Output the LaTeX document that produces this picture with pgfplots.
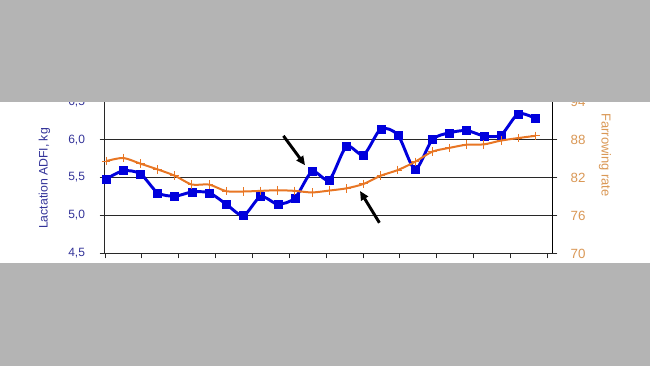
\documentclass[border=0pt]{standalone}
\usepackage{pgfplots}
\pgfplotsset{compat=1.18}
\usepackage{fontspec}
\setmainfont{Liberation Sans}
\usetikzlibrary{arrows.meta}
\definecolor{navy}{RGB}{51,51,153}
\definecolor{lorange}{RGB}{218,152,86}
\definecolor{bblue}{RGB}{0,0,220}
\definecolor{borange}{RGB}{232,118,36}
\definecolor{band}{RGB}{180,180,180}
\definecolor{gridc}{RGB}{40,40,40}
\pgfplotstableread{
x adfi farrow
1 5.48 84.6
2 5.59 85.1
3 5.55 84.2
4 5.30 83.3
5 5.255 82.3
6 5.31 80.9
7 5.30 80.9
8 5.15 79.85
9 5.00 79.8
10 5.25 79.9
11 5.15 80.0
12 5.23 79.9
13 5.58 79.65
14 5.47 79.95
15 5.91 80.3
16 5.80 81.0
17 6.14 82.3
18 6.06 83.2
19 5.61 84.5
20 6.00 86.1
21 6.09 86.7
22 6.12 87.2
23 6.05 87.25
24 6.06 87.85
25 6.34 88.25
26 6.28 88.6
}\datatable
\begin{document}
\begin{tikzpicture}
\useasboundingbox (0,0) rectangle (487.5pt,274.5pt);
\fill[white] (0,0) rectangle (487.5pt,274.5pt);
\begin{axis}[
  at={(78.525pt,84.375pt)}, anchor=south west,
  scale only axis, width=335.7pt, height=113.85pt,
  xmin=0.92, xmax=26.99, ymin=4.5, ymax=6.5,
  axis x line*=bottom, axis y line*=left,
  axis line style={gridc, line width=0.9pt},
  xtick={0.94,3.087,5.234,7.381,9.528,11.675,13.822,15.969,18.116,20.263,22.41,24.557,26.704},
  xticklabels={},
  ytick={4.5,5,5.5,6,6.5},
  yticklabels={{4,5},{5,0},{5,5},{6,0},{6,5}},
  tick align=outside, major tick length=3.75pt,
  tick style={gridc, line width=0.75pt},
  ymajorgrids, grid style={gridc, line width=0.75pt},
  yticklabel style={font=\fontsize{9}{10}\selectfont, text=navy, xshift=-7.5pt},
  clip=false,
]
\addplot[bblue, line width=2.2pt, smooth, tension=0.45, mark=square*, mark size=3pt,
  mark options={fill=bblue, draw=bblue, line width=0.4pt}] table[x=x, y=adfi] {\datatable};
\draw[line width=2.2pt, -{Triangle[length=6.75pt,width=6pt]}] (axis cs:11.33,6.05) -- (axis cs:12.59,5.663);
\draw[line width=2.2pt, -{Triangle[length=6.75pt,width=6pt]}] (axis cs:16.92,4.905) -- (axis cs:15.79,5.323);
\end{axis}
\begin{axis}[
  at={(78.525pt,84.375pt)}, anchor=south west,
  scale only axis, width=335.7pt, height=113.85pt,
  xmin=0.92, xmax=26.99, ymin=70, ymax=94,
  axis x line=none, axis y line*=right,
  axis line style={black, line width=0.9pt},
  ytick={70,76,82,88,94},
  /pgf/number format/assume math mode=true,
  tick align=outside, major tick length=3.75pt,
  tick style={gridc, line width=0.75pt},
  yticklabel style={font=\fontsize{10}{11}\selectfont, text=lorange, xshift=6.5pt},
  clip=false,
]
\addplot[borange, line width=1.5pt, smooth, tension=0.45, mark=+, mark size=3.2pt,
  mark options={line width=0.7pt}] table[x=x, y=farrow] {\datatable};
\end{axis}
\node[rotate=90, text=navy, font=\fontsize{9.2}{10}\selectfont] at (33.375pt,140.625pt) {Lactation ADFI, kg};
\node[rotate=-90, text=lorange, font=\fontsize{9.7}{10}\selectfont] at (453.75pt,158.25pt) {Farrowing rate};
\fill[band] (0,198pt) rectangle (487.5pt,274.5pt);
\fill[band] (0,0) rectangle (487.5pt,77.25pt);
\end{tikzpicture}
\end{document}
